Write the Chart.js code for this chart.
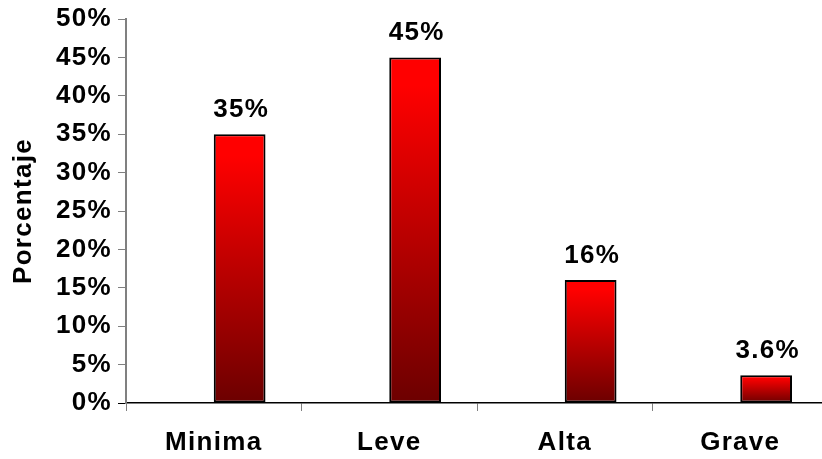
<!DOCTYPE html>
<html>
<head>
<meta charset="utf-8">
<script src="https://cdn.jsdelivr.net/npm/chart.js@4/dist/chart.umd.min.js"></script>
<style>
  html, body { margin: 0; padding: 0; background: #fff; overflow: hidden; }
  #wrap { position: relative; width: 830px; height: 459px; }
</style>
</head>
<body>
<div id="wrap"><canvas id="chart"></canvas></div>
<script>
// Severity categories and the share of cases in each (percent)
const categories = ['Minima', 'Leve', 'Alta', 'Grave'];
const percentages = [35, 45, 16, 3.6];
// Empty companion series that keeps its slot to the left of each bar
const emptySeries = [null, null, null, null];
const yTicks = { min: 0, max: 50, step: 5 };
const axisTitle = 'Porcentaje';

const FONT = { family: '"Liberation Sans", Arial, sans-serif', size: 26, weight: 'bold' };
const SPACING = 1.3;

// Vertical gradient for each bar: bright red at the top fading to dark red at the base
function barGradient(context) {
  const chart = context.chart;
  const y = chart.scales.y;
  if (!chart.chartArea || !y || context.raw == null) return '#ff0000';
  const top = y.getPixelForValue(context.raw);
  const bottom = y.getPixelForValue(0);
  const g = chart.ctx.createLinearGradient(0, top, 0, bottom);
  g.addColorStop(0, '#ff0000');
  g.addColorStop(0.08, '#ff0000');
  g.addColorStop(1, '#6c0000');
  return g;
}

// Letter spacing for all bold text on the canvas
const spacingPlugin = {
  id: 'spacing',
  beforeDraw(chart) { chart.ctx.letterSpacing = SPACING + 'px'; }
};

// Percentage written above each bar
const valueLabels = {
  id: 'valueLabels',
  afterDatasetsDraw(chart) {
    const ctx = chart.ctx;
    const meta = chart.getDatasetMeta(1);
    ctx.save();
    ctx.letterSpacing = SPACING + 'px';
    ctx.font = `${FONT.weight} ${FONT.size}px ${FONT.family}`;
    ctx.fillStyle = '#000';
    ctx.textAlign = 'center';
    ctx.textBaseline = 'alphabetic';
    meta.data.forEach((bar, i) => {
      const txt = String(percentages[i]) + '%';
      ctx.fillText(txt, bar.x + 1 + SPACING / 2, bar.y - 17);
    });
    ctx.restore();
  }
};

new Chart(document.getElementById('chart'), {
  type: 'bar',
  data: {
    labels: categories,
    datasets: [
      { data: emptySeries, backgroundColor: 'transparent', borderWidth: 0 },
      {
        data: percentages,
        backgroundColor: barGradient,
        borderColor: '#000',
        borderWidth: 2,
        borderSkipped: false
      }
    ]
  },
  options: {
    responsive: true,
    maintainAspectRatio: false,
    animation: false,
    devicePixelRatio: 1,
    datasets: { bar: { categoryPercentage: 0.59, barPercentage: 1 } },
    layout: { padding: { top: 19, right: 2, left: 0, bottom: 0 } },
    plugins: {
      legend: { display: false },
      tooltip: { enabled: false }
    },
    scales: {
      x: {
        offset: true,
        grid: {
          offset: true,
          drawOnChartArea: false,
          tickLength: 8,
          color: '#808080',
          lineWidth: 1
        },
        border: { color: '#000', width: 1.5 },
        ticks: { color: '#000', font: FONT, padding: 16 },
        afterFit(scale) { scale.height = 56; }
      },
      y: {
        min: yTicks.min,
        max: yTicks.max,
        grid: {
          drawOnChartArea: false,
          tickLength: 8,
          color: (c) => (c.tick && c.tick.value === 0 ? '#000' : '#808080'),
          lineWidth: 1
        },
        border: { color: '#808080', width: 2 },
        ticks: {
          stepSize: yTicks.step,
          color: '#000',
          font: FONT,
          padding: 6,
          callback: (v) => v + '%'
        },
        title: {
          display: true,
          text: axisTitle,
          color: '#000',
          font: FONT,
          padding: { top: 8, bottom: 0 }
        },
        afterFit(scale) {
          scale.width = 126;
          scale.paddingTop = 0;
          scale.paddingBottom = 0;
        }
      }
    }
  },
  plugins: [spacingPlugin, valueLabels]
});
</script>
</body>
</html>
